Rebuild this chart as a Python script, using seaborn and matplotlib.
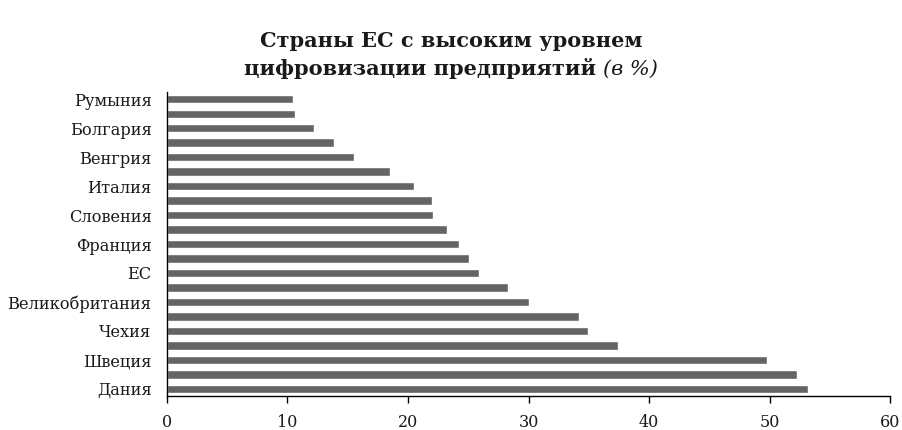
import matplotlib
matplotlib.use("Agg")
import matplotlib.pyplot as plt
import seaborn as sns
import pandas as pd

countries = [
    "Румыния", "Польша", "Болгария", "Греция", "Венгрия", "Латвия",
    "Италия", "Кипр", "Словения", "Хорватия", "Франция", "Португалия",
    "ЕС", "Эстония", "Великобритания", "Австрия", "Чехия", "Нидерланды",
    "Швеция", "Финляндия", "Дания",
]
values = [
    10.5, 10.6, 12.2, 13.9, 15.5, 18.5,
    20.5, 22.0, 22.1, 23.2, 24.2, 25.1,
    25.9, 28.3, 30.0, 34.2, 34.9, 37.4,
    49.8, 52.3, 53.2,
]
x_ticks = [0, 10, 20, 30, 40, 50, 60]

df = pd.DataFrame({"country": countries, "value": values})

sns.set_theme(style="white")
plt.rcParams["font.family"] = ["DejaVu Serif"]

fig = plt.figure(figsize=(9.02, 4.30), dpi=100)
ax = fig.add_axes([0.185, 0.079, 0.802, 0.707])

sns.barplot(data=df, x="value", y="country", orient="h", color="#646464",
            saturation=1, width=0.58, ax=ax)

ax.set_xlim(0, 60)
ax.set_xticks(x_ticks)
ax.set_xticklabels([str(t) for t in x_ticks], fontsize=11.5)
ax.set_yticklabels([c if i % 2 == 0 else "" for i, c in enumerate(countries)],
                   fontsize=11.7)
ax.set_xlabel("")
ax.set_ylabel("")
ax.set_ylim(len(countries) - 0.5, -0.5)

for side in ("top", "right"):
    ax.spines[side].set_visible(False)
for side in ("left", "bottom"):
    ax.spines[side].set_color("black")
    ax.spines[side].set_linewidth(1.0)

ax.tick_params(axis="x", direction="out", length=5, width=1, color="black",
               bottom=True, pad=8)
ax.tick_params(axis="y", length=0, pad=11)
for lbl in ax.get_xticklabels() + ax.get_yticklabels():
    lbl.set_color("#1a1a1a")

# Title: two centred lines, the unit part in italic
title_kw = dict(fontsize=15, color="#1a1a1a", va="baseline")
fig.text(0.5, 1 - 47 / 430, "Страны ЕС с высоким уровнем",
         ha="center", fontweight="bold", **title_kw)

renderer = fig.canvas.get_renderer()
t_bold = fig.text(0, 1 - 75 / 430, "цифровизации предприятий ",
                  ha="left", fontweight="bold", **title_kw)
t_ital = fig.text(0, 1 - 75 / 430, "(в %)",
                  ha="left", fontstyle="italic", **title_kw)
w_bold = t_bold.get_window_extent(renderer).width / fig.bbox.width
w_ital = t_ital.get_window_extent(renderer).width / fig.bbox.width
x0 = 0.5 - (w_bold + w_ital) / 2
t_bold.set_x(x0)
t_ital.set_x(x0 + w_bold)

fig.savefig("out.png", dpi=100, facecolor="white")
